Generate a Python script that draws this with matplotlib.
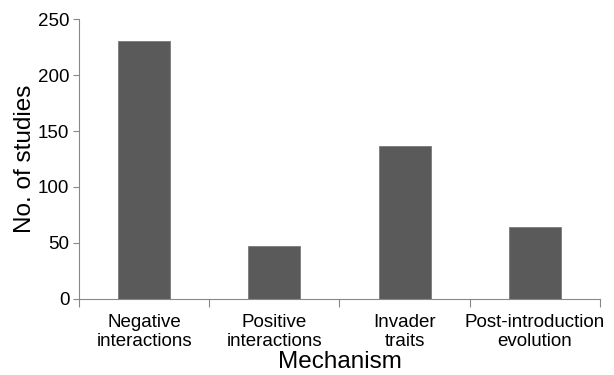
import numpy as np
import matplotlib
matplotlib.use("Agg")
import matplotlib.pyplot as plt

plt.rcParams['font.family'] = ['Liberation Sans', 'DejaVu Sans']

# datos
mechanisms = ["Negative\ninteractions", "Positive\ninteractions",
              "Invader\ntraits", "Post-introduction\nevolution"]
n_studies = [230, 47, 137, 64]

fig = plt.figure(figsize=(6.14, 3.75), dpi=100)
ax = fig.add_axes([0.1287, 0.2027, 0.8483, 0.7466])

x = np.arange(len(mechanisms))
ax.bar(x, n_studies, width=0.4, color='#5a5a5a', edgecolor='#7a7a7a', linewidth=0.6)

ax.set_xlim(-0.5, len(mechanisms) - 0.5)
ax.set_ylim(0, 250)
ax.set_yticks([0, 50, 100, 150, 200, 250])

# ticks en los limites de categoria, etiquetas centradas
ax.set_xticks(np.arange(len(mechanisms) + 1) - 0.5)
ax.set_xticklabels([])
ax.set_xticks(x, minor=True)
ax.set_xticklabels(mechanisms, minor=True, fontsize=13.5, linespacing=1.1)
ax.tick_params(axis='x', which='minor', length=0, pad=11)
ax.tick_params(axis='x', which='major', length=6, color='#888888', width=0.8)
ax.tick_params(axis='y', length=4, color='#888888', width=0.8, labelsize=13.5, pad=3)

for side in ['top', 'right']:
    ax.spines[side].set_visible(False)
for side in ['left', 'bottom']:
    ax.spines[side].set_color('#888888')
    ax.spines[side].set_linewidth(0.8)

ax.set_ylabel('No. of studies', fontsize=17.5, labelpad=1)
ax.set_xlabel('Mechanism', fontsize=17.5, labelpad=1)

fig.savefig('out.png', dpi=100)
